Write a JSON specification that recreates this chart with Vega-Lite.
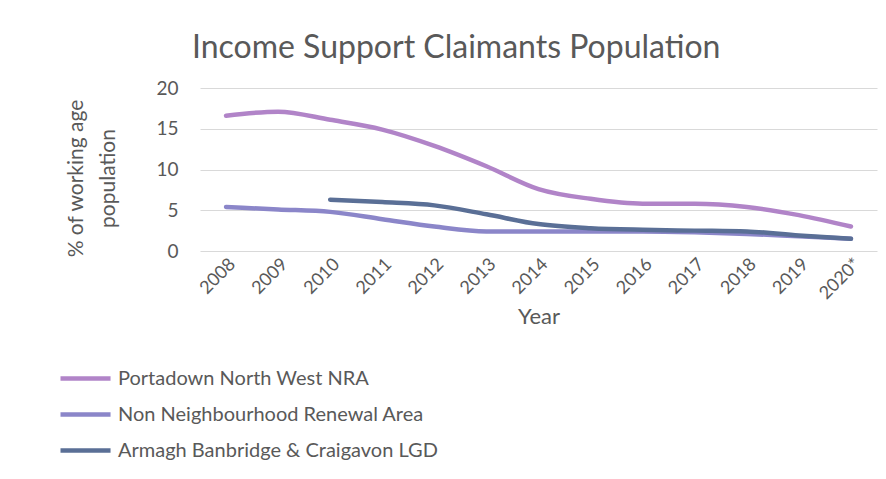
{
  "$schema": "https://vega.github.io/schema/vega-lite/v6.json",
  "width": 677,
  "height": 163,
  "autosize": {"type": "none"},
  "padding": {"left": 200, "top": 88, "right": 9, "bottom": 228},
  "background": "white",
  "config": {
    "font": "Lato",
    "view": {"stroke": null}
  },
  "title": {
    "text": "Income Support Claimants Population",
    "anchor": "start",
    "frame": "group",
    "dx": -8,
    "offset": 14,
    "fontSize": 32,
    "fontWeight": "normal",
    "color": "#595959",
    "font": "Lato"
  },
  "data": {
    "values": [
      {"year": "2008", "series": "Portadown North West NRA", "value": 16.6},
      {"year": "2009", "series": "Portadown North West NRA", "value": 17.1},
      {"year": "2010", "series": "Portadown North West NRA", "value": 16.1},
      {"year": "2011", "series": "Portadown North West NRA", "value": 14.9},
      {"year": "2012", "series": "Portadown North West NRA", "value": 12.9},
      {"year": "2013", "series": "Portadown North West NRA", "value": 10.4},
      {"year": "2014", "series": "Portadown North West NRA", "value": 7.6},
      {"year": "2015", "series": "Portadown North West NRA", "value": 6.4},
      {"year": "2016", "series": "Portadown North West NRA", "value": 5.8},
      {"year": "2017", "series": "Portadown North West NRA", "value": 5.8},
      {"year": "2018", "series": "Portadown North West NRA", "value": 5.4},
      {"year": "2019", "series": "Portadown North West NRA", "value": 4.4},
      {"year": "2020*", "series": "Portadown North West NRA", "value": 3.0},
      {"year": "2008", "series": "Non Neighbourhood Renewal Area", "value": 5.4},
      {"year": "2009", "series": "Non Neighbourhood Renewal Area", "value": 5.1},
      {"year": "2010", "series": "Non Neighbourhood Renewal Area", "value": 4.8},
      {"year": "2011", "series": "Non Neighbourhood Renewal Area", "value": 3.9},
      {"year": "2012", "series": "Non Neighbourhood Renewal Area", "value": 3.0},
      {"year": "2013", "series": "Non Neighbourhood Renewal Area", "value": 2.4},
      {"year": "2014", "series": "Non Neighbourhood Renewal Area", "value": 2.4},
      {"year": "2015", "series": "Non Neighbourhood Renewal Area", "value": 2.4},
      {"year": "2016", "series": "Non Neighbourhood Renewal Area", "value": 2.4},
      {"year": "2017", "series": "Non Neighbourhood Renewal Area", "value": 2.3},
      {"year": "2018", "series": "Non Neighbourhood Renewal Area", "value": 2.1},
      {"year": "2019", "series": "Non Neighbourhood Renewal Area", "value": 1.8},
      {"year": "2020*", "series": "Non Neighbourhood Renewal Area", "value": 1.5},
      {"year": "2010", "series": "Armagh Banbridge & Craigavon LGD", "value": 6.3},
      {"year": "2011", "series": "Armagh Banbridge & Craigavon LGD", "value": 6.0},
      {"year": "2012", "series": "Armagh Banbridge & Craigavon LGD", "value": 5.6},
      {"year": "2013", "series": "Armagh Banbridge & Craigavon LGD", "value": 4.5},
      {"year": "2014", "series": "Armagh Banbridge & Craigavon LGD", "value": 3.3},
      {"year": "2015", "series": "Armagh Banbridge & Craigavon LGD", "value": 2.8},
      {"year": "2016", "series": "Armagh Banbridge & Craigavon LGD", "value": 2.6},
      {"year": "2017", "series": "Armagh Banbridge & Craigavon LGD", "value": 2.5},
      {"year": "2018", "series": "Armagh Banbridge & Craigavon LGD", "value": 2.4},
      {"year": "2019", "series": "Armagh Banbridge & Craigavon LGD", "value": 1.9},
      {"year": "2020*", "series": "Armagh Banbridge & Craigavon LGD", "value": 1.5}
    ]
  },
  "mark": {"type": "line", "strokeWidth": 4.5, "strokeCap": "round", "strokeJoin": "round", "interpolate": "monotone"},
  "encoding": {
    "x": {
      "field": "year",
      "type": "ordinal",
      "sort": null,
      "scale": {"type": "point", "padding": 0.5},
      "axis": {
        "title": "Year",
        "titleFontSize": 22,
        "titleFontWeight": "normal",
        "titleColor": "#595959",
        "titleY": 55,
        "labelAngle": -45,
        "labelFontSize": 18,
        "labelColor": "#595959",
        "labelPadding": 4,
        "ticks": false,
        "domain": false,
        "grid": false
      }
    },
    "y": {
      "field": "value",
      "type": "quantitative",
      "scale": {"domain": [0, 20]},
      "axis": {
        "title": ["% of working age", "population"],
        "titleFontSize": 21,
        "titleFontWeight": "normal",
        "titleColor": "#595959",
        "titleLineHeight": 32,
        "titleX": -114,
        "titleY": 90,
        "titleBaseline": "bottom",
        "values": [0, 5, 10, 15, 20],
        "labelFontSize": 19,
        "labelColor": "#595959",
        "labelPadding": 22,
        "ticks": false,
        "domain": false,
        "grid": true,
        "gridColor": "#d9d9d9",
        "gridWidth": 1.2
      }
    },
    "color": {
      "field": "series",
      "type": "nominal",
      "sort": null,
      "scale": {
        "domain": ["Portadown North West NRA", "Non Neighbourhood Renewal Area", "Armagh Banbridge & Craigavon LGD"],
        "range": ["#b184c8", "#8b86c9", "#5a6f96"]
      },
      "legend": {
        "title": null,
        "orient": "none",
        "legendX": -142,
        "legendY": 270,
        "direction": "vertical",
        "symbolType": "M-1,0H1.78",
        "symbolStrokeWidth": 4.5,
        "symbolSize": 1296,
        "labelFontSize": 20,
        "labelColor": "#595959",
        "rowPadding": 5,
        "labelOffset": 19,
        "labelLimit": 400
      }
    }
  }
}
